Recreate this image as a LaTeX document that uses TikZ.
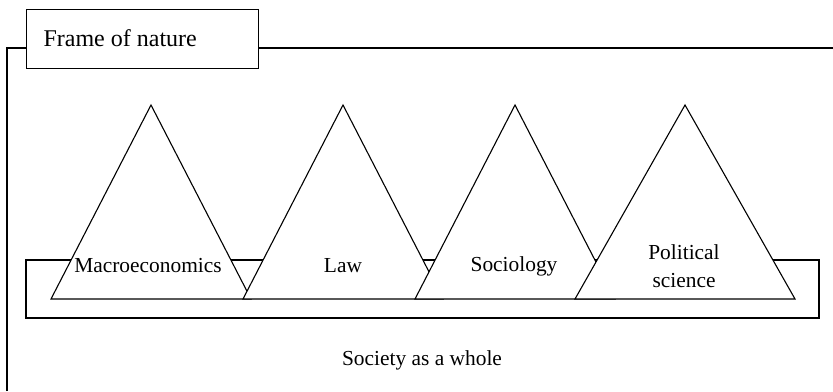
\documentclass[tikz,border=0pt]{standalone}
\usepackage{fontspec}
\setmainfont{Liberation Serif}
\usetikzlibrary{positioning}

\begin{document}
\begin{tikzpicture}[
    x=0.5pt, y=-0.5pt,
    line width=0.55pt,
    framebox/.style={draw, fill=white, minimum width=116pt, minimum height=29.5pt, inner sep=0pt},
    peak/.style={draw, fill=white, line join=miter},
    lbl/.style={font=\fontsize{10.7}{14}\selectfont, align=center, inner sep=0pt}
]

\useasboundingbox (0,0) rectangle (833,391);

% outer frame
\coordinate (fl) at (7,391);
\coordinate (fc) at (7,48);
\coordinate (fr) at (833,48);
\draw (fl) -- (fc) -- (fr);

\node[framebox, anchor=north west] (fon) at (26,9) {};
\node[anchor=west, inner sep=0pt, font=\fontsize{12}{14}\selectfont] (fontext) at (43,38.5) {Frame of nature};

% society
\draw (26,260) rectangle (819,318);

\foreach \cx/\hw in {151/100, 343/100, 515/100, 685/110}
    \filldraw[peak] (\cx,105) -- (\cx+\hw,299) -- (\cx-\hw,299) -- cycle;

\node[lbl] (macro) at (148,266) {Macroeconomics};

\node[lbl] (law) at (343,266) {Law};

\node[lbl] (socio) at (514,266) {Sociology};

\node[lbl] (polsci) at (684,266) {Political\\science};

\node[lbl] (whole) at (422,360) {Society as a whole};

\end{tikzpicture}
\end{document}
